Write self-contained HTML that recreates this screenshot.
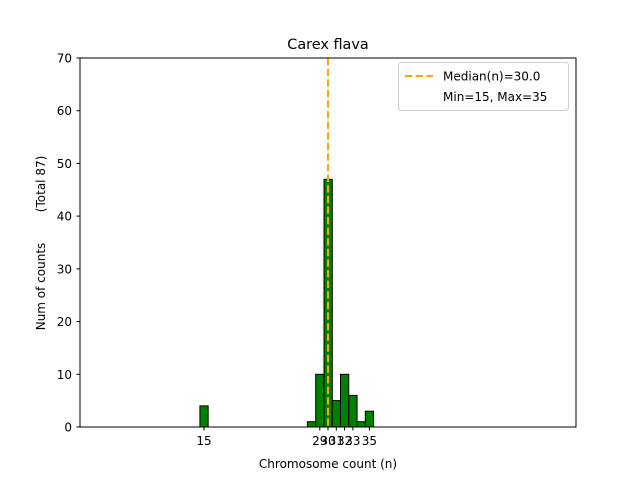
<!DOCTYPE html>
<html><head><style>body{margin:0;background:#fff}svg{display:block}text{font-family:"DejaVu Sans","Liberation Sans",sans-serif;fill:#000}</style></head>
<body>
<svg width="640" height="480" viewBox="0 0 640 480" xmlns="http://www.w3.org/2000/svg">
<rect width="640" height="480" fill="#fff"/>
<text x="328" y="49" font-size="14.4" text-anchor="middle">Carex flava</text>
<g fill="green" stroke="#000" stroke-width="1">
<rect x="199.9" y="405.9" width="8.27" height="21.1"/>
<rect x="307.4" y="421.7" width="8.27" height="5.3"/>
<rect x="315.7" y="374.3" width="8.27" height="52.7"/>
<rect x="324" y="179.3" width="8.27" height="247.7"/>
<rect x="332.2" y="400.6" width="8.27" height="26.4"/>
<rect x="340.5" y="374.3" width="8.27" height="52.7"/>
<rect x="348.8" y="395.4" width="8.27" height="31.6"/>
<rect x="357" y="421.7" width="8.27" height="5.3"/>
<rect x="365.3" y="411.2" width="8.27" height="15.8"/>
</g>
<line x1="200" y1="427" x2="397" y2="427" stroke="#000"/>
<line x1="328" y1="58" x2="328" y2="427" stroke="orange" stroke-width="2" stroke-dasharray="7.4,3.2"/>
<rect x="80" y="58" width="496" height="369" fill="none" stroke="#000" stroke-width="1"/>
<g stroke="#000">
<line x1="76.5" y1="427" x2="80" y2="427"/><line x1="76.5" y1="374.3" x2="80" y2="374.3"/><line x1="76.5" y1="321.6" x2="80" y2="321.6"/><line x1="76.5" y1="268.9" x2="80" y2="268.9"/><line x1="76.5" y1="216.1" x2="80" y2="216.1"/><line x1="76.5" y1="163.4" x2="80" y2="163.4"/><line x1="76.5" y1="110.7" x2="80" y2="110.7"/><line x1="76.5" y1="58" x2="80" y2="58"/>
<line x1="204" y1="427" x2="204" y2="430.5"/><line x1="319.8" y1="427" x2="319.8" y2="430.5"/><line x1="328" y1="427" x2="328" y2="430.5"/><line x1="336.3" y1="427" x2="336.3" y2="430.5"/><line x1="344.6" y1="427" x2="344.6" y2="430.5"/><line x1="352.9" y1="427" x2="352.9" y2="430.5"/><line x1="369.4" y1="427" x2="369.4" y2="430.5"/>
</g>
<g font-size="12" text-anchor="end">
<text x="72" y="431.5">0</text><text x="72" y="378.8">10</text><text x="72" y="326.1">20</text><text x="72" y="273.4">30</text><text x="72" y="220.6">40</text><text x="72" y="167.9">50</text><text x="72" y="115.2">60</text><text x="72" y="62.5">70</text>
</g>
<g font-size="12" text-anchor="middle">
<text x="204" y="445">15</text><text x="319.8" y="445">29</text><text x="328" y="445">30</text><text x="336.3" y="445">31</text><text x="344.6" y="445">32</text><text x="352.9" y="445">33</text><text x="369.4" y="445">35</text>
<text x="328" y="468">Chromosome count (n)</text>
</g>
<text transform="translate(45,243) rotate(-90)" font-size="12" text-anchor="middle" xml:space="preserve">Num of counts        (Total 87)</text>
<rect x="398.5" y="62.5" width="170" height="48" rx="3" fill="#fff" fill-opacity="0.8" stroke="#ccc"/>
<line x1="405" y1="76" x2="433" y2="76" stroke="orange" stroke-width="2" stroke-dasharray="7.4,3.2"/>
<text x="443" y="80.5" font-size="12">Median(n)=30.0</text>
<text x="443" y="101" font-size="12">Min=15, Max=35</text>
</svg>
</body></html>
